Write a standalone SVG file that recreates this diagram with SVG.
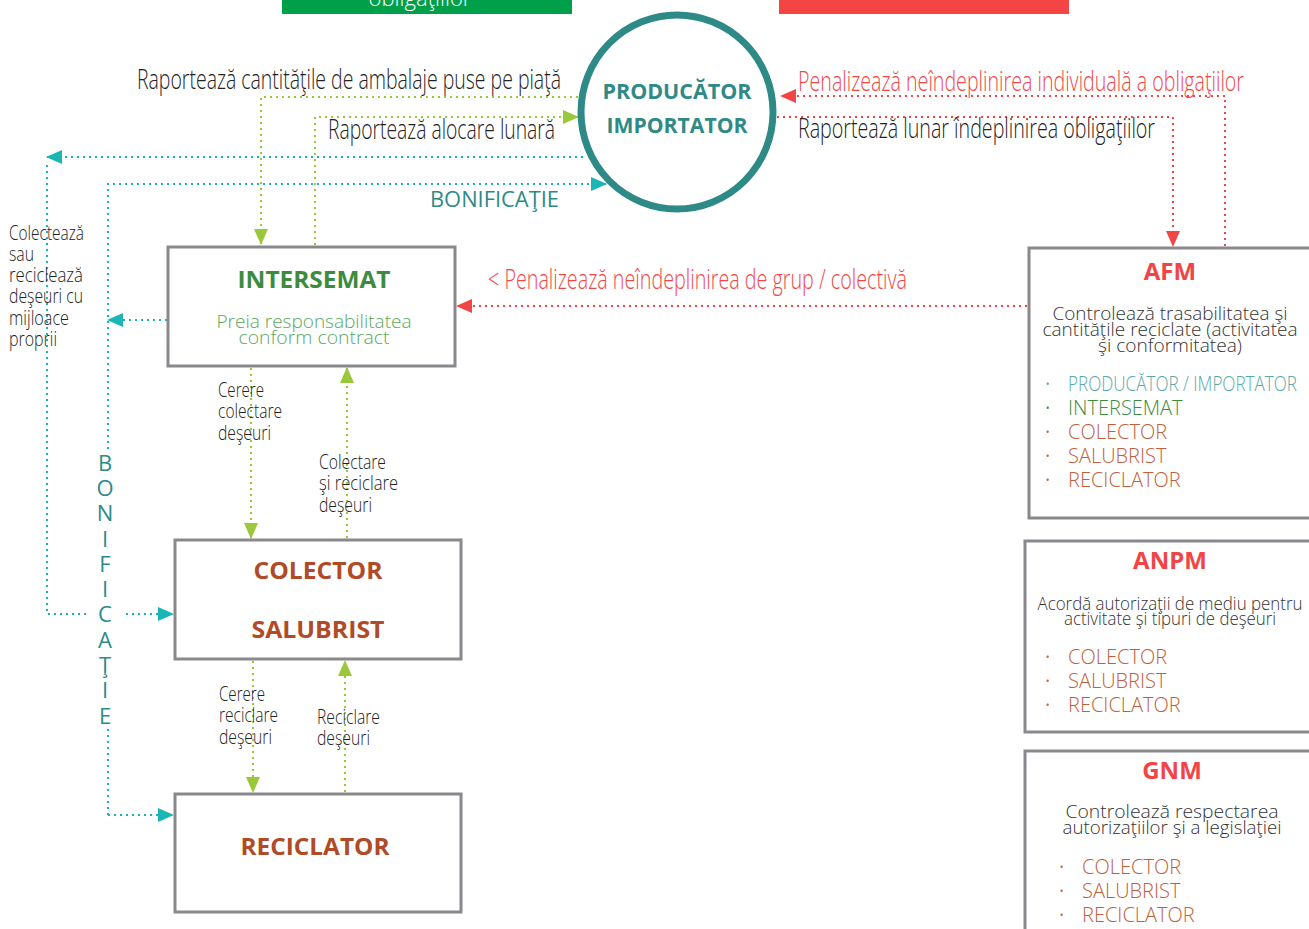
<svg xmlns="http://www.w3.org/2000/svg" width="1309" height="929" viewBox="0 0 1309 929">
<style>
.cond{font-family:"Open Sans","Liberation Sans",sans-serif;font-weight:300;fill:#222}
.lbl{font-size:28px}
.sm{font-size:21px}
.box{fill:#fff;stroke:#89898d;stroke-width:3}
.ttl{font-family:"Open Sans","Liberation Sans",sans-serif;font-weight:700;text-anchor:middle}
.body{font-family:"Open Sans","Liberation Sans",sans-serif;font-weight:300;font-size:19px;fill:#333;text-anchor:middle}
.li{font-family:"Open Sans","Liberation Sans",sans-serif;font-weight:300;font-size:20px}
.bu{font-family:"Open Sans","Liberation Sans",sans-serif;font-size:14px}
.dot{fill:none;stroke-width:2;stroke-dasharray:2 4}
.g{stroke:#9bc83a}.t{stroke:#1ab5b5}.r{stroke:#f24646}
.brown{fill:#c0603a}
</style>
<defs>
<marker id="ag" markerUnits="userSpaceOnUse" markerWidth="16" markerHeight="14" refX="15" refY="7" orient="auto"><path d="M0,0 L16,7 L0,14 Z" fill="#9bc83a"/></marker>
<marker id="at" markerUnits="userSpaceOnUse" markerWidth="16" markerHeight="14" refX="15" refY="7" orient="auto"><path d="M0,0 L16,7 L0,14 Z" fill="#1ab5b5"/></marker>
<marker id="ar" markerUnits="userSpaceOnUse" markerWidth="16" markerHeight="14" refX="15" refY="7" orient="auto"><path d="M0,0 L16,7 L0,14 Z" fill="#f24646"/></marker>
</defs>
<rect width="1309" height="929" fill="#fff"/>

<g id="topbars">
<rect x="282" y="0" width="290" height="14" fill="#00a04a"/>
<text x="420" y="6" font-family="Open Sans, sans-serif" font-weight="300" font-size="22" fill="#fff" text-anchor="middle">obligaţiilor</text>
<rect x="779" y="0" width="290" height="14" fill="#f54444"/>
</g>

<g id="connectors">
<path class="dot g" d="M578,97 H261 V244" marker-end="url(#ag)"/>
<path class="dot g" d="M315,245 V117 H578" marker-end="url(#ag)"/>
<path class="dot t" d="M583,157 H47" marker-end="url(#at)"/>
<path class="dot t" d="M47,165 V614 H173" marker-end="url(#at)"/>
<path class="dot t" d="M108,815 V184 H606" marker-end="url(#at)"/>
<path class="dot t" d="M108,815 H173" marker-end="url(#at)"/>
<path class="dot t" d="M167,320 H108" marker-end="url(#at)"/>
<path class="dot r" d="M1225,246 V96 H781" marker-end="url(#ar)"/>
<path class="dot r" d="M777,117 H1173 V246" marker-end="url(#ar)"/>
<path class="dot r" d="M1027,306 H457" marker-end="url(#ar)"/>
<path class="dot g" d="M251,368 V538" marker-end="url(#ag)"/>
<path class="dot g" d="M347,538 V368" marker-end="url(#ag)"/>
<path class="dot g" d="M253,661 V792" marker-end="url(#ag)"/>
<path class="dot g" d="M345,792 V661" marker-end="url(#ag)"/>
</g>

<g id="labels">
<text class="cond lbl" x="137" y="89" textLength="424" lengthAdjust="spacingAndGlyphs">Raportează cantităţile de ambalaje puse pe piaţă</text>
<text class="cond lbl" x="328" y="139" textLength="227" lengthAdjust="spacingAndGlyphs">Raportează alocare lunară</text>
<text x="430" y="207" font-family="Open Sans, sans-serif" font-weight="400" font-size="22" fill="#2e8a86" textLength="129" lengthAdjust="spacingAndGlyphs">BONIFICAŢIE</text>
<text class="cond lbl" x="798" y="91" style="fill:#f24646" textLength="446" lengthAdjust="spacingAndGlyphs">Penalizează neîndeplinirea individuală a obligaţiilor</text>
<text class="cond lbl" x="798" y="138" textLength="357" lengthAdjust="spacingAndGlyphs">Raportează lunar îndeplinirea obligaţiilor</text>
<text class="cond lbl" x="488" y="289" style="fill:#f24646" textLength="419" lengthAdjust="spacingAndGlyphs">&lt;  Penalizează neîndeplinirea de grup / colectivă</text>
<g class="cond sm">
<text x="9" y="240" textLength="75" lengthAdjust="spacingAndGlyphs">Colectează</text>
<text x="9" y="261" textLength="25" lengthAdjust="spacingAndGlyphs">sau</text>
<text x="9" y="282" textLength="74" lengthAdjust="spacingAndGlyphs">reciclează</text>
<text x="9" y="303" textLength="74" lengthAdjust="spacingAndGlyphs">deşeuri cu</text>
<text x="9" y="325" textLength="60" lengthAdjust="spacingAndGlyphs">mijloace</text>
<text x="9" y="346" textLength="48" lengthAdjust="spacingAndGlyphs">proprii</text>
<text x="218" y="397" textLength="46" lengthAdjust="spacingAndGlyphs">Cerere</text>
<text x="218" y="418" textLength="64" lengthAdjust="spacingAndGlyphs">colectare</text>
<text x="218" y="440" textLength="53" lengthAdjust="spacingAndGlyphs">deşeuri</text>
<text x="319" y="469" textLength="67" lengthAdjust="spacingAndGlyphs">Colectare</text>
<text x="319" y="490" textLength="79" lengthAdjust="spacingAndGlyphs">şi  reciclare</text>
<text x="319" y="512" textLength="53" lengthAdjust="spacingAndGlyphs">deşeuri</text>
<text x="219" y="701" textLength="46" lengthAdjust="spacingAndGlyphs">Cerere</text>
<text x="219" y="722" textLength="59" lengthAdjust="spacingAndGlyphs">reciclare</text>
<text x="219" y="744" textLength="53" lengthAdjust="spacingAndGlyphs">deşeuri</text>
<text x="317" y="724" textLength="63" lengthAdjust="spacingAndGlyphs">Reciclare</text>
<text x="317" y="745" textLength="53" lengthAdjust="spacingAndGlyphs">deşeuri</text>
</g>
<rect x="86" y="452" width="40" height="276" fill="#fff"/>
<g font-family="Open Sans, sans-serif" font-weight="400" font-size="22" fill="#2e8a86" text-anchor="middle">
<text x="105" y="471">B</text>
<text x="105" y="496">O</text>
<text x="105" y="521">N</text>
<text x="105" y="547">I</text>
<text x="105" y="572">F</text>
<text x="105" y="597">I</text>
<text x="105" y="622">C</text>
<text x="105" y="648">A</text>
<text x="105" y="673">Ţ</text>
<text x="105" y="698">I</text>
<text x="105" y="724">E</text>
</g>
</g>

<g id="producator">
<ellipse cx="677" cy="112" rx="96" ry="97" fill="#fff" stroke="#2e8a86" stroke-width="7"/>
<text class="ttl" x="677" y="99" font-size="22" fill="#2e8a86" textLength="149" lengthAdjust="spacingAndGlyphs">PRODUCĂTOR</text>
<text class="ttl" x="677" y="133" font-size="22" fill="#2e8a86" textLength="141" lengthAdjust="spacingAndGlyphs">IMPORTATOR</text>
</g>

<g id="intersemat">
<rect class="box" x="168" y="247" width="287" height="119"/>
<text class="ttl" x="314" y="288" font-size="24" fill="#3d8b40" textLength="153" lengthAdjust="spacingAndGlyphs">INTERSEMAT</text>
<text class="body" x="314" y="328" style="fill:#5aa85c" font-size="20" textLength="195" lengthAdjust="spacingAndGlyphs">Preia responsabilitatea</text>
<text class="body" x="314" y="344" style="fill:#5aa85c" font-size="20" textLength="151" lengthAdjust="spacingAndGlyphs">conform contract</text>
</g>

<g id="colector">
<rect class="box" x="175" y="540" width="286" height="119"/>
<text class="ttl" x="318" y="579" font-size="24" fill="#b04a27" textLength="129" lengthAdjust="spacingAndGlyphs">COLECTOR</text>
<text class="ttl" x="318" y="638" font-size="24" fill="#b04a27" textLength="133" lengthAdjust="spacingAndGlyphs">SALUBRIST</text>
</g>

<g id="reciclator">
<rect class="box" x="175" y="794" width="286" height="118"/>
<text class="ttl" x="315" y="855" font-size="24" fill="#b04a27" textLength="149" lengthAdjust="spacingAndGlyphs">RECICLATOR</text>
</g>

<g id="afm">
<rect class="box" x="1029" y="248" width="290" height="270"/>
<text class="ttl" x="1170" y="280" font-size="24" fill="#f24444">AFM</text>
<text class="body" x="1170" y="320" textLength="235" lengthAdjust="spacingAndGlyphs">Controlează trasabilitatea şi</text>
<text class="body" x="1170" y="336" textLength="255" lengthAdjust="spacingAndGlyphs">cantităţile reciclate (activitatea</text>
<text class="body" x="1170" y="352" textLength="144" lengthAdjust="spacingAndGlyphs">şi conformitatea)</text>
<g class="li">
<text x="1045" y="389" class="bu" fill="#5aa8a8">•</text><text x="1068" y="391" fill="#5aa8a8" textLength="229" lengthAdjust="spacingAndGlyphs">PRODUCĂTOR / IMPORTATOR</text>
<text x="1045" y="413" class="bu" fill="#3d8b40">•</text><text x="1068" y="415" fill="#3d8b40">INTERSEMAT</text>
<text x="1045" y="437" class="bu brown">•</text><text x="1068" y="439" class="brown">COLECTOR</text>
<text x="1045" y="461" class="bu brown">•</text><text x="1068" y="463" class="brown">SALUBRIST</text>
<text x="1045" y="485" class="bu brown">•</text><text x="1068" y="487" class="brown">RECICLATOR</text>
</g>
</g>

<g id="anpm">
<rect class="box" x="1025" y="541" width="294" height="191"/>
<text class="ttl" x="1170" y="569" font-size="24" fill="#f24444">ANPM</text>
<text class="body" x="1170" y="610" textLength="265" lengthAdjust="spacingAndGlyphs">Acordă autorizaţii de mediu pentru</text>
<text class="body" x="1170" y="625" textLength="212" lengthAdjust="spacingAndGlyphs">activitate şi tipuri de deşeuri</text>
<g class="li">
<text x="1045" y="662" class="bu brown">•</text><text x="1068" y="664" class="brown">COLECTOR</text>
<text x="1045" y="686" class="bu brown">•</text><text x="1068" y="688" class="brown">SALUBRIST</text>
<text x="1045" y="710" class="bu brown">•</text><text x="1068" y="712" class="brown">RECICLATOR</text>
</g>
</g>

<g id="gnm">
<rect class="box" x="1025" y="751" width="294" height="200"/>
<text class="ttl" x="1172" y="779" font-size="24" fill="#f24444">GNM</text>
<text class="body" x="1172" y="818" textLength="213" lengthAdjust="spacingAndGlyphs">Controlează respectarea</text>
<text class="body" x="1172" y="834" textLength="219" lengthAdjust="spacingAndGlyphs">autorizaţiilor şi a legislaţiei</text>
<g class="li">
<text x="1059" y="872" class="bu brown">•</text><text x="1082" y="874" class="brown">COLECTOR</text>
<text x="1059" y="896" class="bu brown">•</text><text x="1082" y="898" class="brown">SALUBRIST</text>
<text x="1059" y="920" class="bu brown">•</text><text x="1082" y="922" class="brown">RECICLATOR</text>
</g>
</g>
</svg>
